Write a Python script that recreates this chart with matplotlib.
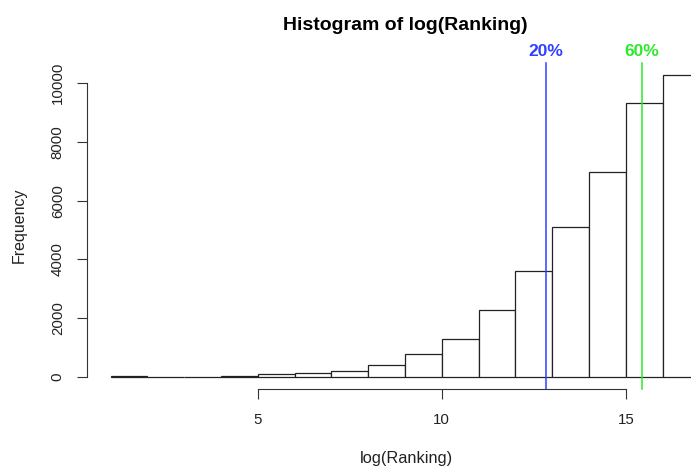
import matplotlib
matplotlib.use("Agg")
import matplotlib.pyplot as plt

plt.rcParams['font.family'] = ['Liberation Sans', 'DejaVu Sans']

# Histograma de log(Ranking), cortes de 1 en 1
cortes = list(range(1, 18))
frecuencias = [30, 10, 12, 35, 100, 150, 215, 410, 765, 1305, 2280, 3605,
               5090, 6990, 9330, 10275]

# Cuantiles marcados
cuantiles = [12.83, 15.43]
etiquetas_q = ['20%', '60%']
colores_q = ['#3040ff', '#2ee82e']

W, H = 691, 467
fig = plt.figure(figsize=(W / 100, H / 100), dpi=100)

# region de dibujo estilo R (se corta por la derecha)
izq, der, arr, aba = 87, 723, 63, 389
ax = fig.add_axes([izq / W, 1 - aba / H, (der - izq) / W, (aba - arr) / H])

anchos = [cortes[i + 1] - cortes[i] for i in range(len(frecuencias))]
ax.bar(cortes[:-1], frecuencias, width=anchos, align='edge',
       color='white', edgecolor='#222222', linewidth=0.9)

# limites con 4% de margen como en R
rx = cortes[-1] - cortes[0]
ax.set_xlim(cortes[0] - 0.04 * rx, cortes[-1] + 0.04 * rx)
ymax = max(frecuencias)
ax.set_ylim(-0.04 * ymax, ymax * 1.04)

for q, et, c in zip(cuantiles, etiquetas_q, colores_q):
    ax.axvline(q, color=c, linewidth=1.1, clip_on=False)
    ax.text(q, 1.012, et, transform=ax.get_xaxis_transform(), color=c,
            fontsize=12.5, fontweight='bold', ha='center', va='bottom')

for s in ['top', 'right']:
    ax.spines[s].set_visible(False)
ax.spines['left'].set_bounds(0, 10000)
ax.spines['bottom'].set_bounds(5, 15)
for s in ['left', 'bottom']:
    ax.spines[s].set_color('#333333')
    ax.spines[s].set_linewidth(0.8)

ax.set_xticks([5, 10, 15])
ax.set_yticks(range(0, 10001, 2000))
ax.tick_params(axis='both', length=7, width=0.8, color='#333333',
               labelsize=10.8, labelcolor='#222222')
ax.tick_params(axis='x', pad=10.5)
ax.tick_params(axis='y', pad=9)
for lab in ax.get_yticklabels():
    lab.set_rotation(90)
    lab.set_va('center')

fig.text(405 / W, 1 - 30 / H, 'Histogram of log(Ranking)', fontsize=14,
         fontweight='bold', ha='center', va='baseline')
fig.text(406 / W, 1 - 463 / H, 'log(Ranking)', fontsize=11.8,
         ha='center', va='baseline', color='#222222')
fig.text(19 / W, 1 - 225 / H, 'Frequency', fontsize=11.5, rotation=90,
         ha='center', va='center', color='#222222')

fig.savefig('out.png', dpi=100)
